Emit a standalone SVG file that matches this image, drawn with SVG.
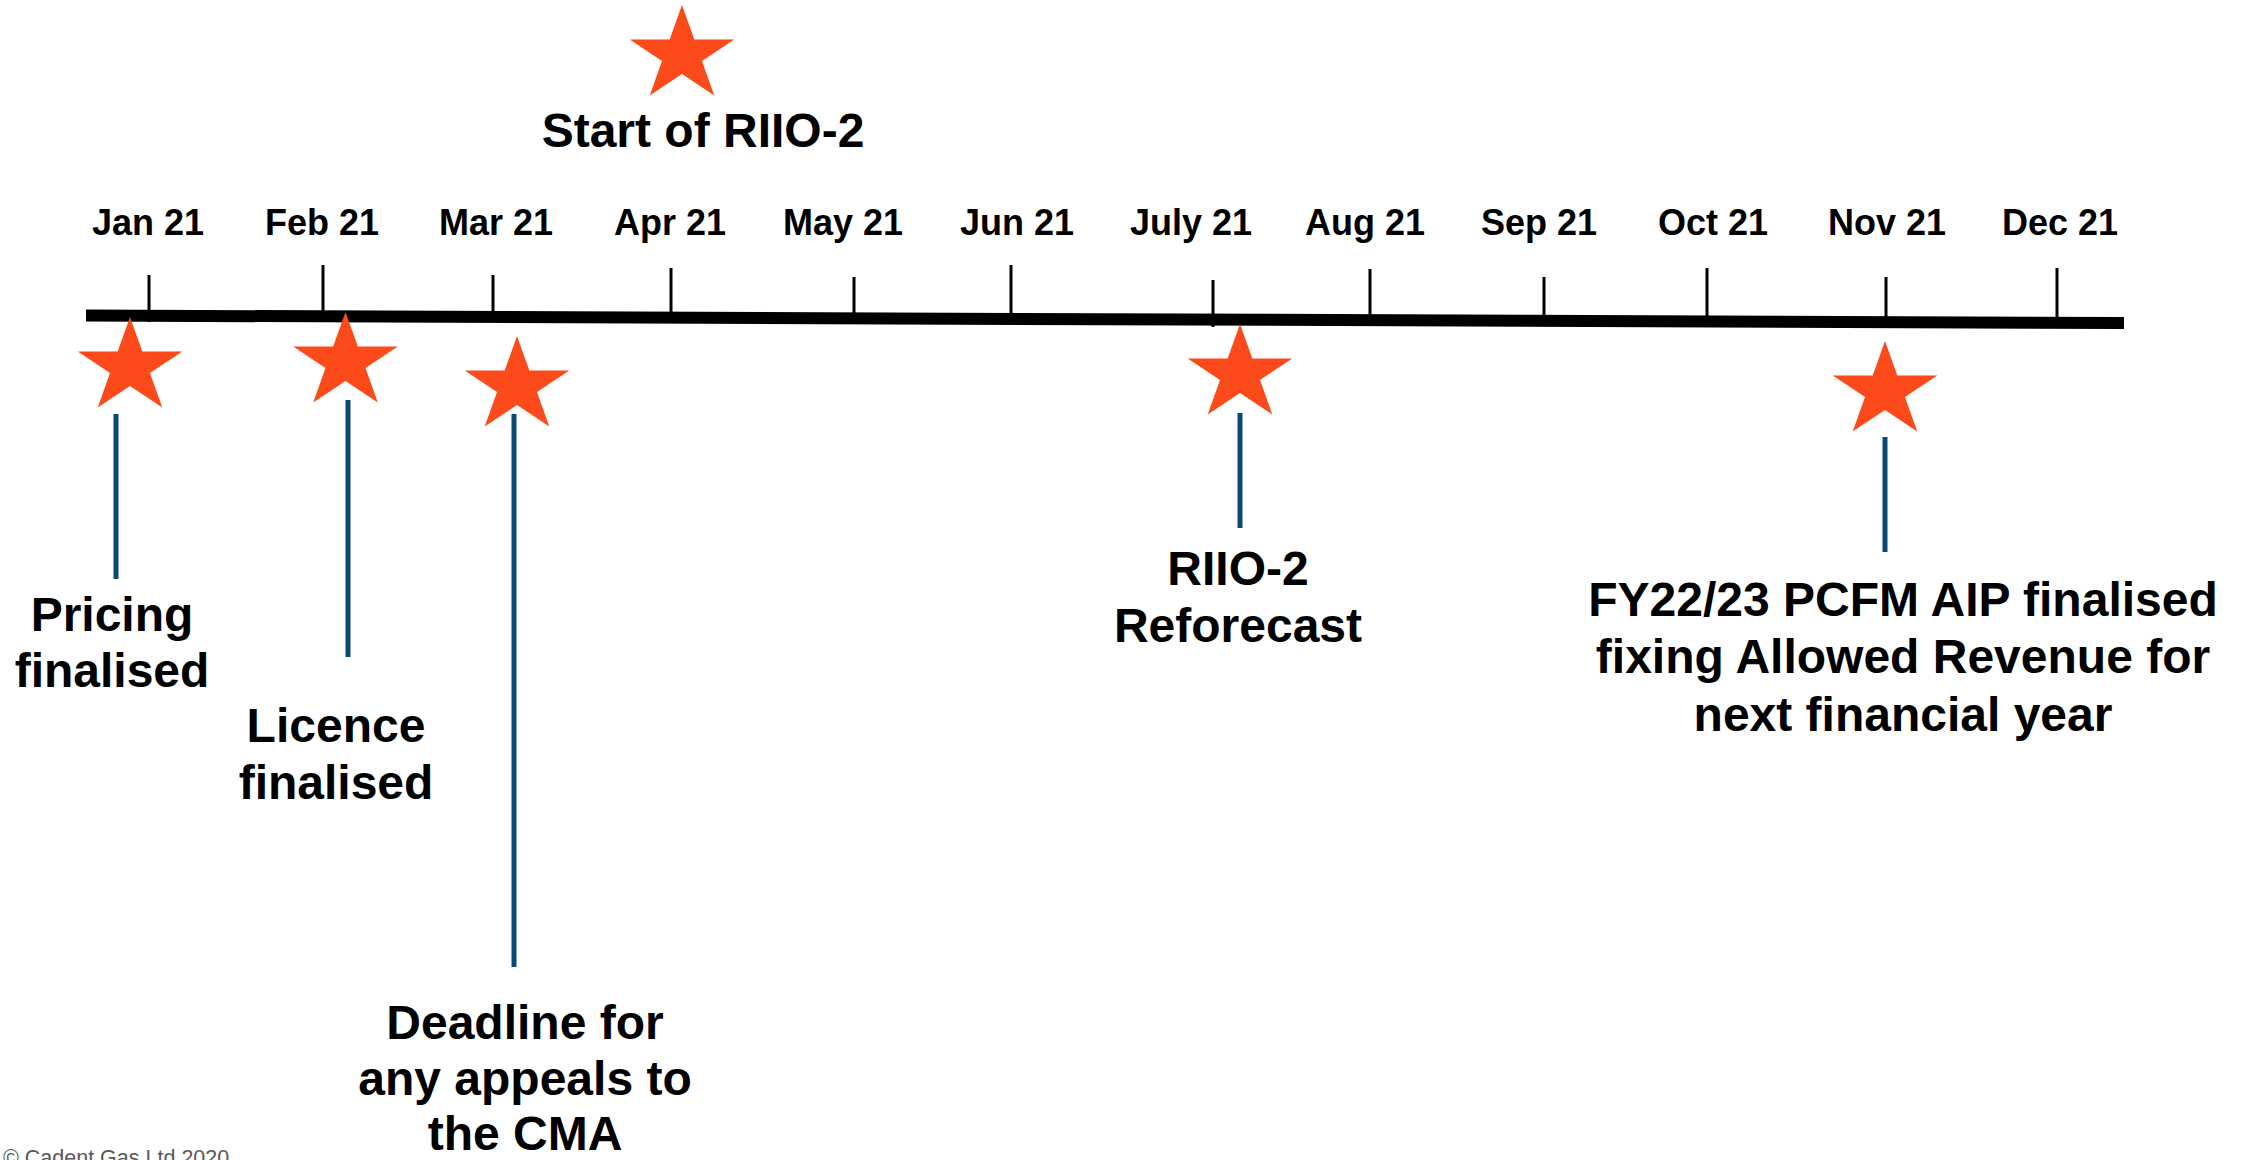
<svg xmlns="http://www.w3.org/2000/svg" xmlns:xlink="http://www.w3.org/1999/xlink" width="2249" height="1160" viewBox="0 0 2249 1160">
<style>
  .month { font-family: "Liberation Sans", Arial, sans-serif; font-weight: bold; font-size: 36px; fill: #000; text-anchor: middle; }
  .label { font-family: "Liberation Sans", Arial, sans-serif; font-weight: bold; font-size: 48px; fill: #000; text-anchor: middle; }
  .tick { stroke: #000; stroke-width: 3; }
  .conn { stroke: #0A4A72; stroke-width: 5; }
  .star { fill: #FC4A1A; }
  .foot { font-family: "Liberation Sans", Arial, sans-serif; font-size: 21.5px; fill: #595959; }
</style>
<defs>
  <path id="star" d="M0,0 L12.35,34.55 L52.3,34.5 L19.98,55.9 L32.3,90.45 L0,69.1 L-32.3,90.45 L-19.98,55.9 L-52.3,34.5 L-12.35,34.55 Z"/>
</defs>

<g id="timeline">
  <line x1="86" y1="315.5" x2="2124" y2="323" stroke="#000" stroke-width="12"/>
  <line class="tick" x1="149" y1="275" x2="149" y2="322"/>
  <line class="tick" x1="323" y1="265" x2="323" y2="316"/>
  <line class="tick" x1="493" y1="275" x2="493" y2="317"/>
  <line class="tick" x1="671" y1="268" x2="671" y2="317"/>
  <line class="tick" x1="854" y1="277" x2="854" y2="318"/>
  <line class="tick" x1="1011" y1="265" x2="1011" y2="318"/>
  <line class="tick" x1="1213" y1="280" x2="1213" y2="327"/>
  <line class="tick" x1="1370" y1="269" x2="1370" y2="320"/>
  <line class="tick" x1="1544" y1="277" x2="1544" y2="320"/>
  <line class="tick" x1="1707" y1="268" x2="1707" y2="320"/>
  <line class="tick" x1="1886" y1="277" x2="1886" y2="321"/>
  <line class="tick" x1="2057" y1="268" x2="2057" y2="322"/>
</g>

<g id="months">
  <text class="month" x="148" y="235">Jan 21</text>
  <text class="month" x="322" y="235">Feb 21</text>
  <text class="month" x="496" y="235">Mar 21</text>
  <text class="month" x="670" y="235">Apr 21</text>
  <text class="month" x="843" y="235">May 21</text>
  <text class="month" x="1017" y="235">Jun 21</text>
  <text class="month" x="1191" y="235">July 21</text>
  <text class="month" x="1365" y="235">Aug 21</text>
  <text class="month" x="1539" y="235">Sep 21</text>
  <text class="month" x="1713" y="235">Oct 21</text>
  <text class="month" x="1887" y="235">Nov 21</text>
  <text class="month" x="2060" y="235">Dec 21</text>
</g>

<g id="connectors">
  <line class="conn" x1="116" y1="414" x2="116" y2="579"/>
  <line class="conn" x1="348" y1="400" x2="348" y2="657"/>
  <line class="conn" x1="514" y1="414" x2="514" y2="967"/>
  <line class="conn" x1="1240" y1="413" x2="1240" y2="528"/>
  <line class="conn" x1="1885" y1="437" x2="1885" y2="552"/>
</g>

<g id="start-riio2">
  <use href="#star" class="star" x="682" y="5"/>
  <text class="label" x="703" y="147">Start of RIIO-2</text>
</g>

<g id="pricing">
  <use href="#star" class="star" x="130" y="317"/>
  <text class="label"><tspan x="112" y="631">Pricing</tspan><tspan x="112" y="687">finalised</tspan></text>
</g>

<g id="licence">
  <use href="#star" class="star" x="345.5" y="312"/>
  <text class="label"><tspan x="336" y="742">Licence</tspan><tspan x="336" y="799">finalised</tspan></text>
</g>

<g id="deadline">
  <use href="#star" class="star" x="517" y="336"/>
  <text class="label"><tspan x="525" y="1039">Deadline for</tspan><tspan x="525" y="1095">any appeals to</tspan><tspan x="525" y="1150">the CMA</tspan></text>
</g>

<g id="reforecast">
  <use href="#star" class="star" x="1240" y="324"/>
  <text class="label"><tspan x="1238" y="585">RIIO-2</tspan><tspan x="1238" y="642">Reforecast</tspan></text>
</g>

<g id="pcfm">
  <use href="#star" class="star" x="1885" y="341"/>
  <text class="label"><tspan x="1903" y="616">FY22/23 PCFM AIP finalised</tspan><tspan x="1903" y="673">fixing Allowed Revenue for</tspan><tspan x="1903" y="731">next financial year</tspan></text>
</g>

<text class="foot" x="3" y="1165">© Cadent Gas Ltd 2020</text>
</svg>
